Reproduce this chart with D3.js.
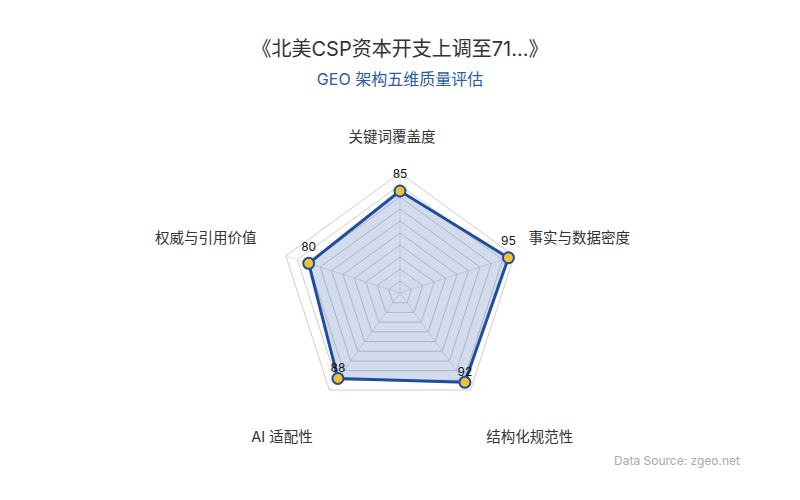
<!DOCTYPE html>
<html>
<head>
<meta charset="utf-8">
<script src="https://cdn.jsdelivr.net/npm/d3@7"></script>
<style>
  body { margin: 0; background: #fff; }
  svg { display: block; font-family: Inter, "Noto Sans CJK SC", sans-serif; }
</style>
</head>
<body>
<svg id="chart" width="800" height="500"></svg>
<script>
// data
const indicators = ["关键词覆盖度", "事实与数据密度", "结构化规范性", "AI 适配性", "权威与引用价值"];
const scores = [85, 95, 92, 88, 80];
const maxScore = 100;
const splitLevels = d3.range(1, 11); // 10 rings

const title = "《北美CSP资本开支上调至71...》";
const subtitle = "GEO 架构五维质量评估";
const source = "Data Source: zgeo.net";

const svg = d3.select("#chart");
const cx = 400, cy = 293, R = 120;

const r = d3.scaleLinear().domain([0, maxScore]).range([0, R]);
const angle = i => -Math.PI / 2 + i * 2 * Math.PI / indicators.length;
const pt = (i, v) => [cx + r(v) * Math.cos(angle(i)), cy + r(v) * Math.sin(angle(i))];

// titles
svg.append("text")
  .attr("x", 400).attr("y", 51)
  .attr("text-anchor", "middle").attr("dominant-baseline", "middle")
  .attr("font-size", 20).attr("fill", "#333")
  .text(title);

svg.append("text")
  .attr("x", 400).attr("y", 81)
  .attr("text-anchor", "middle").attr("dominant-baseline", "middle")
  .attr("font-size", 16).attr("fill", "#2a5caa")
  .text(subtitle);

const grid = svg.append("g");

const line = d3.line();
const ringPath = lv => line(indicators.map((_, i) => pt(i, lv * maxScore / 10))) + "Z";

grid.selectAll("path.ring")
  .data(splitLevels)
  .join("path")
  .attr("class", "ring")
  .attr("d", ringPath)
  .attr("fill", "none")
  .attr("stroke", "#e3e3e3")
  .attr("stroke-width", 1);

grid.selectAll("line.spoke")
  .data(indicators)
  .join("line")
  .attr("class", "spoke")
  .attr("x1", cx).attr("y1", cy)
  .attr("x2", (d, i) => pt(i, maxScore)[0])
  .attr("y2", (d, i) => pt(i, maxScore)[1])
  .attr("stroke", "#e3e3e3");

// axis names
grid.selectAll("text.name")
  .data(indicators)
  .join("text")
  .attr("class", "name")
  .attr("font-size", 14.5)
  .attr("fill", "#333")
  .attr("dominant-baseline", "middle")
  .each(function (d, i) {
    const a = angle(i), c = Math.cos(a), s = Math.sin(a);
    const px = cx + 135 * c, py = cy + 135 * s;
    let anchor = "middle", dx = -8, dy = -12;
    if (c > 0.1) { anchor = "start"; dx = 0; }
    else if (c < -0.1) { anchor = "end"; dx = -15; }
    if (s < -0.9) dy = -20;
    if (s > 0.5) { dy = 36; dx = c > 0 ? 7 : -8; }
    d3.select(this)
      .attr("x", px + dx).attr("y", py + dy)
      .attr("text-anchor", anchor)
      .text(d);
  });

// data polygon
const poly = scores.map((v, i) => pt(i, v));
svg.append("path")
  .attr("d", line(poly) + "Z")
  .attr("fill", "rgba(31,78,160,0.2)")
  .attr("stroke", "none");

// grid lines inside the area a bit darker
svg.append("g")
  .selectAll("path")
  .data(splitLevels)
  .join("path")
  .attr("d", ringPath)
  .attr("fill", "none")
  .attr("stroke", "rgba(120,130,150,0.2)");

svg.append("path")
  .attr("d", line(poly) + "Z")
  .attr("fill", "none")
  .attr("stroke", "#1f4ea1")
  .attr("stroke-width", 3)
  .attr("stroke-linejoin", "round");

svg.selectAll("circle.pt")
  .data(scores)
  .join("circle")
  .attr("class", "pt")
  .attr("cx", (d, i) => pt(i, d)[0])
  .attr("cy", (d, i) => pt(i, d)[1])
  .attr("r", 5.5)
  .attr("fill", "#f2c12e")
  .attr("stroke", "#1f4ea1")
  .attr("stroke-width", 2);

svg.selectAll("text.val")
  .data(scores)
  .join("text")
  .attr("class", "val")
  .attr("x", (d, i) => pt(i, d)[0])
  .attr("y", (d, i) => pt(i, d)[1] + (Math.sin(angle(i)) > 0.5 ? -10 : -16))
  .attr("text-anchor", "middle")
  .attr("dominant-baseline", "middle")
  .attr("font-size", 12)
  .attr("fill", "#111")
  .text(d => d);

svg.append("text")
  .attr("x", 740).attr("y", 462)
  .attr("text-anchor", "end")
  .attr("dominant-baseline", "middle")
  .attr("font-size", 12)
  .attr("fill", "#aaa")
  .text(source);
</script>
</body>
</html>
